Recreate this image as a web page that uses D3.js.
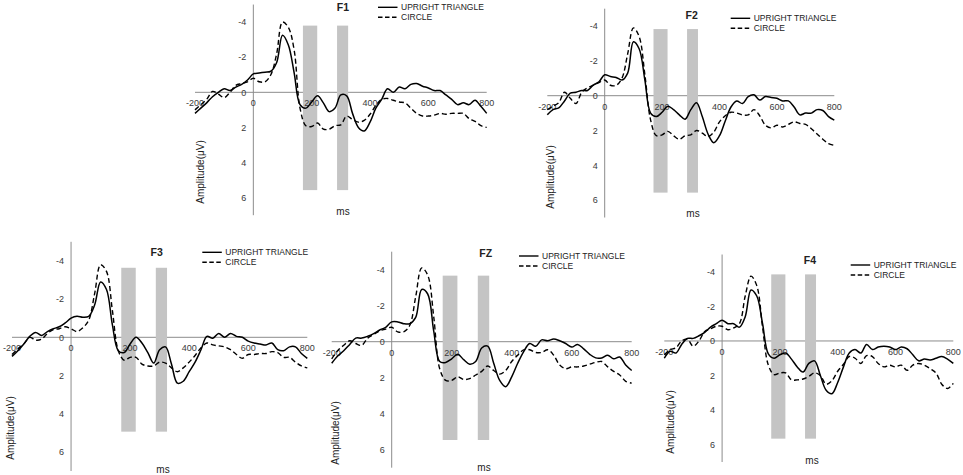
<!DOCTYPE html>
<html><head><meta charset="utf-8">
<script src="https://cdn.jsdelivr.net/npm/d3@7"></script>
<style>
body{margin:0;background:#fff}
svg{display:block}
text{font-family:"Liberation Sans",Arial,sans-serif}
</style>
</head><body>
<svg id="chart" width="963" height="475"></svg>
<script>
// ---------- data ----------
const timesMs = [-200,-180,-160,-140,-120,-100,-80,-60,-40,-20,0,20,40,60,80,100,120,140,160,180,200,220,240,260,280,300,320,340,360,380,400,420,440,460,480,500,520,540,560,580,600,620,640,660,680,700,720,740,760,780,800];
const xTicks = [-200,0,200,400,600,800];
const yTicks = [-4,-2,0,2,4,6];
const seriesNames = ["UPRIGHT TRIANGLE","CIRCLE"];
const electrodes = ["F1","F2","F3","FZ","F4"];
const windowsMs = [[170,219],[287,325]];
const windowTop = [-3.8,-3.83,-3.64,-3.67,-3.85];
const windowBottom = [5.57,5.57,4.94,5.46,5.65];

const f1Upright = [1.2,0.9,0.6,0.25,0.0,-0.2,-0.1,-0.3,-0.45,-0.7,-1.05,-1.1,-1.15,-1.2,-1.7,-3.25,-2.7,-1.1,0.7,0.9,0.55,0.2,0.6,1.1,0.9,0.15,0.2,1.2,2.0,2.2,1.7,0.9,0.4,-0.2,0.0,-0.3,-0.2,-0.45,-0.5,-0.35,-0.25,-0.1,-0.1,0.15,0.4,0.7,0.6,0.7,0.45,0.8,1.2];
const f1Circle = [1.0,0.7,0.4,-0.05,0.1,0.3,0.0,-0.4,-0.5,-0.6,-0.8,-0.6,-0.6,-1.0,-2.2,-4.0,-3.7,-2.4,0.9,1.9,1.95,1.75,2.1,2.1,1.9,1.85,1.35,1.55,1.7,1.6,1.25,0.75,0.4,0.35,0.45,0.55,0.6,0.9,1.2,1.35,1.35,1.3,1.2,1.25,1.2,1.2,1.2,1.5,1.65,1.9,2.0];
const f2Upright = [1.1,0.8,0.7,0.3,-0.15,-0.2,-0.3,-0.3,-0.6,-0.8,-1.2,-1.1,-1.05,-0.9,-1.3,-3.1,-2.7,-0.9,1.0,1.2,0.95,0.6,0.8,1.1,1.35,0.8,0.4,1.2,2.2,2.7,2.3,1.45,0.65,0.3,0.45,0.05,-0.05,0.25,0.05,0.1,0.15,0.3,0.3,0.65,1.1,1.0,1.0,0.8,0.85,1.2,1.4];
const f2Circle = [0.8,0.6,0.4,-0.2,0.15,0.45,-0.2,-0.45,-0.6,-0.75,-0.9,-0.6,-0.6,-1.0,-2.4,-3.9,-3.4,-1.2,1.4,2.3,2.25,2.05,2.3,2.5,2.3,2.25,2.0,2.15,2.35,2.1,1.5,1.15,0.95,1.0,1.1,1.1,0.8,1.15,1.7,1.85,1.7,1.8,1.65,1.5,1.6,1.65,1.9,2.2,2.5,2.75,2.85];
const f3Upright = [1.0,0.7,0.35,-0.05,-0.25,-0.1,-0.3,-0.45,-0.55,-0.75,-1.0,-1.1,-1.05,-1.1,-1.7,-2.9,-2.5,-0.65,0.7,0.8,0.35,0.0,0.3,0.8,1.35,0.65,0.5,1.4,2.4,2.3,1.8,1.3,0.65,-0.05,0.05,-0.2,0.0,-0.2,-0.05,0.0,0.2,0.3,0.35,0.4,0.3,0.65,0.7,0.5,0.5,0.85,1.1];
const f3Circle = [0.9,0.6,0.35,0.0,0.15,0.1,-0.2,-0.4,-0.45,-0.55,-0.45,-0.3,-0.5,-0.9,-2.3,-3.8,-3.45,-1.4,0.7,1.2,1.05,1.05,1.4,1.5,1.5,1.3,1.35,1.6,1.8,1.6,1.3,0.95,0.55,0.3,0.4,0.45,0.5,0.65,0.9,1.1,0.9,0.9,0.85,0.85,0.75,0.8,1.05,1.05,1.3,1.5,1.6];
const fzUpright = [1.2,0.8,0.5,0.15,-0.2,-0.2,-0.3,-0.45,-0.65,-0.8,-1.1,-1.1,-1.0,-1.0,-1.35,-2.9,-2.65,-0.6,1.1,1.15,0.95,0.7,1.0,1.25,1.1,0.35,0.25,1.2,2.15,2.5,1.95,1.2,0.55,0.1,0.25,-0.1,-0.05,-0.15,-0.05,0.1,0.3,0.15,0.4,0.7,0.9,0.9,0.75,0.95,0.85,1.3,1.6];
const fzCircle = [0.95,0.5,0.2,-0.05,0.1,0.2,-0.2,-0.4,-0.6,-0.7,-0.8,-0.55,-0.55,-0.9,-2.5,-4.1,-3.7,-1.4,1.5,2.15,2.15,1.95,2.1,2.05,1.85,1.65,1.35,1.6,1.8,1.6,1.1,0.75,0.45,0.45,0.6,0.6,0.45,0.75,1.3,1.5,1.4,1.4,1.35,1.25,1.15,1.1,1.4,1.65,1.85,2.2,2.3];
const f4Upright = [1.0,0.6,0.7,0.2,-0.15,-0.15,-0.3,-0.5,-0.8,-1.0,-1.2,-1.0,-1.0,-0.8,-1.4,-2.95,-2.6,-1.0,0.75,1.0,0.8,0.7,1.05,1.5,1.8,1.3,1.15,2.0,2.85,3.05,2.4,1.5,0.7,0.5,0.7,0.2,0.5,0.35,0.3,0.35,0.5,0.35,0.45,0.8,1.15,1.05,1.1,1.0,0.9,1.05,1.3];
const f4Circle = [0.8,0.5,0.4,0.0,-0.1,0.3,0.0,-0.55,-0.7,-0.85,-0.85,-0.65,-0.75,-1.0,-2.6,-3.75,-3.2,-0.8,1.4,1.95,1.85,1.85,2.25,2.25,2.2,2.05,1.85,2.0,2.5,2.3,1.75,1.35,0.9,1.0,1.3,0.85,0.9,1.3,1.5,1.4,1.5,1.4,1.7,1.4,1.3,1.4,1.6,1.85,2.5,2.75,2.45];

const uprightSeries = [f1Upright,f2Upright,f3Upright,fzUpright,f4Upright];
const circleSeries = [f1Circle,f2Circle,f3Circle,fzCircle,f4Circle];

// ---------- layout (pixels) ----------
const layout = [
  {x:[195,486.7], y:[4.55,215.2], title:[343,7.3], legend:[378,7.3], amp:[200,172], ms:[343,211]},
  {x:[547.3,834.3], y:[8.7,217.5], title:[691.7,15], legend:[730.7,18.3], amp:[550,177], ms:[693,213]},
  {x:[12,307.3], y:[241.8,471], title:[156.7,251.7], legend:[202.3,252.3], amp:[10,428], ms:[163,469]},
  {x:[331.7,631.7], y:[251.7,467.7], title:[485.7,252.7], legend:[519,256], amp:[335,433], ms:[484,467]},
  {x:[664.3,953.3], y:[254.5,462], title:[810,260], legend:[850.7,265], amp:[670,422], ms:[812,460]}
];

const svg = d3.select("#chart");
const axisColor = "#8c8c8c";
const textColor = "#3a3a3a";

electrodes.forEach((name, i) => {
  const L = layout[i];
  const x = d3.scaleLinear().domain([-200,800]).range(L.x);
  const y = d3.scaleLinear().domain([-5,7]).range(L.y);
  const g = svg.append("g");

  // x axis (at 0 µV)
  g.append("line").attr("x1",x(-200)).attr("x2",x(800)).attr("y1",y(0)).attr("y2",y(0))
    .attr("stroke",axisColor).attr("stroke-width",1);
  // y axis (at 0 ms)
  g.append("line").attr("x1",x(0)).attr("x2",x(0)).attr("y1",y(-5)).attr("y2",y(7))
    .attr("stroke",axisColor).attr("stroke-width",1);

  // shaded windows
  g.selectAll("rect.win").data(windowsMs).join("rect").attr("class","win")
    .attr("x",d=>x(d[0])).attr("width",d=>x(d[1])-x(d[0]))
    .attr("y",y(windowTop[i])).attr("height",y(windowBottom[i])-y(windowTop[i]))
    .attr("fill","#c4c4c4");

  // tick labels
  g.selectAll("text.yt").data(yTicks).join("text").attr("class","yt")
    .attr("x",x(0)-7).attr("y",d=>y(d)+3.2).attr("text-anchor","end")
    .attr("font-size",9).attr("fill",textColor).text(d=>d);
  g.selectAll("text.xt").data(xTicks).join("text").attr("class","xt")
    .attr("x",d=>x(d)).attr("y",y(0)+14).attr("text-anchor","middle")
    .attr("font-size",9).attr("fill",textColor).text(d=>d);

  // curves
  const line = d3.line().x((d,j)=>x(timesMs[j])).y(d=>y(d)).curve(d3.curveCatmullRom.alpha(0.5));
  g.append("path").attr("d",line(circleSeries[i])).attr("fill","none")
    .attr("stroke","#000").attr("stroke-width",1.4).attr("stroke-dasharray","5,3");
  g.append("path").attr("d",line(uprightSeries[i])).attr("fill","none")
    .attr("stroke","#000").attr("stroke-width",1.5);

  // title
  g.append("text").attr("x",L.title[0]).attr("y",L.title[1]+3.8).attr("text-anchor","middle")
    .attr("font-size",10.5).attr("font-weight","bold").attr("fill","#222").text(name);

  // legend
  seriesNames.forEach((s,k)=>{
    const ly = L.legend[1] + k*10;
    g.append("line").attr("x1",L.legend[0]).attr("x2",L.legend[0]+19.5).attr("y1",ly).attr("y2",ly)
      .attr("stroke","#000").attr("stroke-width",1.4).attr("stroke-dasharray",k===1?"4.5,2.5":null);
    g.append("text").attr("x",L.legend[0]+23).attr("y",ly+3.1).attr("font-size",8.5)
      .attr("fill","#222").text(s);
  });

  // axis titles
  g.append("text").attr("transform",`translate(${L.amp[0]},${L.amp[1]}) rotate(-90)`)
    .attr("text-anchor","middle").attr("dy","0.35em").attr("font-size",10).attr("fill","#222")
    .text("Amplitude(μV)");
  g.append("text").attr("x",L.ms[0]).attr("y",L.ms[1]+3.5).attr("text-anchor","middle")
    .attr("font-size",10).attr("fill","#222").text("ms");
});
</script>
</body></html>
